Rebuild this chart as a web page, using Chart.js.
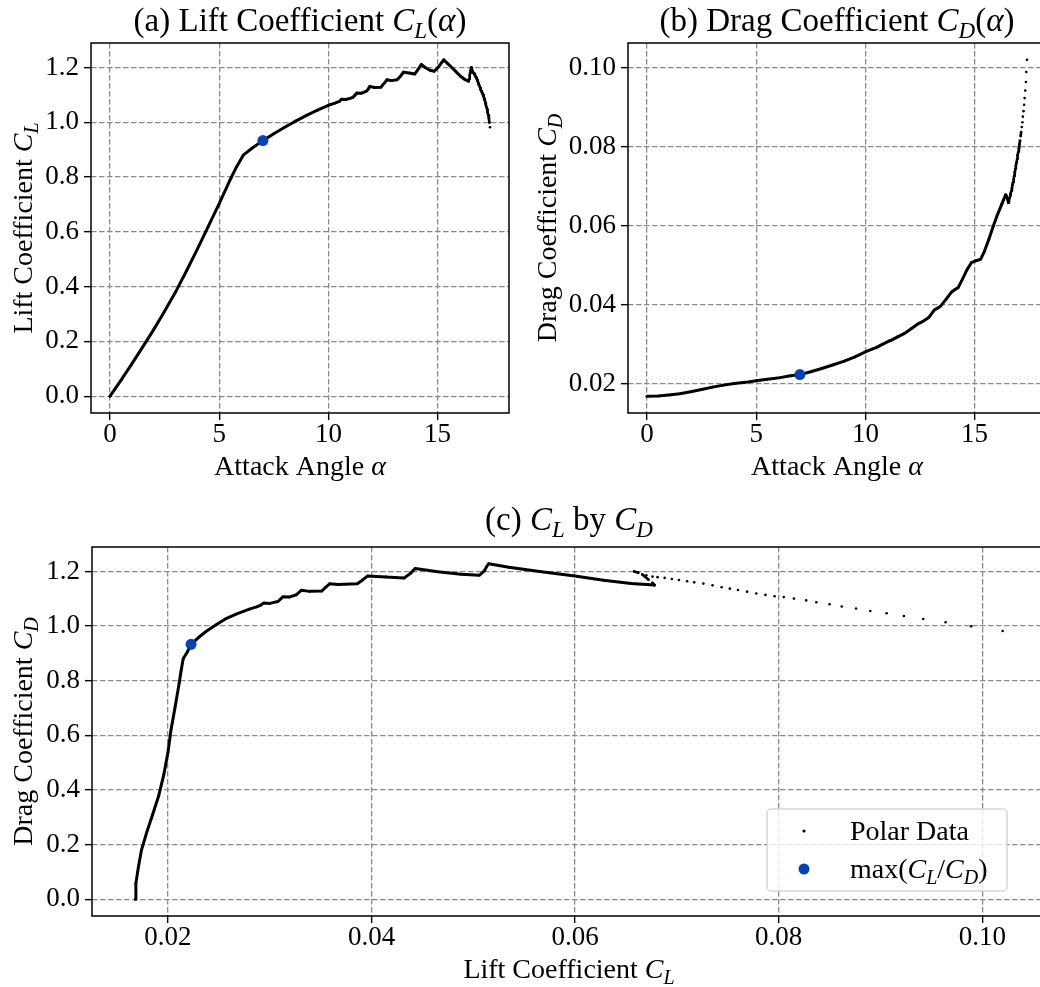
<!DOCTYPE html>
<html>
<head>
<meta charset="utf-8">
<script src="https://cdn.jsdelivr.net/npm/chart.js@4"></script>
<style>
  html, body { margin: 0; padding: 0; background: #fff; overflow: hidden; }
  body { width: 1040px; height: 987px; position: relative; }
  canvas { position: absolute; }
</style>
</head>
<body>
<canvas id="lift-chart" width="560" height="490" style="left:0;top:0"></canvas>
<canvas id="drag-chart" width="600" height="490" style="left:500px;top:0"></canvas>
<canvas id="polar-chart" width="1100" height="497" style="left:0;top:490px"></canvas>
<script>
// polar sweep: angle of attack (deg), lift and drag coefficients
const alpha = [
  0, 0.5, 1.0, 1.5, 2.0, 2.5, 3.0, 3.5, 4.0, 4.5, 5.0, 5.5, 5.8, 6.1, 6.5, 7.0, 7.5, 8.0, 8.5, 9.0,
  9.5, 10.0, 10.3, 10.5, 10.6, 10.8, 11.1, 11.2, 11.3, 11.5, 11.75, 11.82, 11.9, 12.1, 12.4, 12.55,
  12.68, 12.9, 13.15, 13.3, 13.44, 13.7, 13.95, 14.1, 14.25, 14.45, 14.65, 14.85, 15.05, 15.18,
  15.28, 15.45, 15.65, 15.85, 16.05, 16.25, 16.42,
  16.44, 16.47, 16.49, 16.51, 16.54, 16.57, 16.60, 16.63, 16.65, 16.68, 16.71, 16.73, 16.76, 16.79,
  16.81, 16.84, 16.87, 16.89, 16.92, 16.95, 16.97, 17.00, 17.03, 17.05, 17.08, 17.11, 17.13, 17.16,
  17.19, 17.21, 17.24, 17.27, 17.29, 17.32, 17.35, 17.37, 17.40
];
const liftCoef = [
  0.000, 0.058, 0.118, 0.180, 0.243, 0.310, 0.380, 0.457, 0.537, 0.620, 0.703, 0.790, 0.838, 0.880,
  0.905, 0.933, 0.958, 0.982, 1.004, 1.025, 1.044, 1.062, 1.070, 1.076, 1.084, 1.083, 1.090, 1.097,
  1.107, 1.106, 1.114, 1.121, 1.131, 1.127, 1.128, 1.142, 1.155, 1.152, 1.155, 1.168, 1.183, 1.180,
  1.176, 1.192, 1.211, 1.199, 1.190, 1.186, 1.203, 1.217, 1.228, 1.215, 1.200, 1.184, 1.168, 1.156,
  1.150,
  1.158, 1.170, 1.180, 1.189, 1.200, 1.1955, 1.186, 1.181, 1.179, 1.1765, 1.172, 1.1685, 1.164,
  1.160, 1.1555, 1.149, 1.142, 1.137, 1.132, 1.126, 1.119, 1.114, 1.109, 1.106, 1.1005, 1.094,
  1.087, 1.080, 1.0715, 1.064, 1.055, 1.047, 1.037, 1.026, 1.014, 0.999, 0.982
];
const dragCoef = [
  0.01680, 0.01685, 0.01710, 0.01740, 0.01790, 0.01850, 0.01910, 0.01960, 0.02000, 0.02030,
  0.02070, 0.02110, 0.02130, 0.02150, 0.02190, 0.02227, 0.02300, 0.02380, 0.02470, 0.02560,
  0.02670, 0.02800, 0.02870, 0.02910, 0.02940, 0.03000, 0.03080, 0.03100, 0.03130, 0.03190,
  0.03260, 0.03280, 0.03310, 0.03390, 0.03510, 0.03550, 0.03590, 0.03670, 0.03860, 0.03910,
  0.03960, 0.04140, 0.04320, 0.04380, 0.04430, 0.04650, 0.04880, 0.05060, 0.05110, 0.05130,
  0.05150, 0.05350, 0.05650, 0.05980, 0.06280, 0.06550, 0.06780,
  0.0676, 0.0672, 0.0669, 0.0666, 0.0658, 0.0662, 0.0670, 0.0676, 0.0681, 0.0688, 0.0695, 0.0702,
  0.0710, 0.0717, 0.0726, 0.0735, 0.0744, 0.0752, 0.0760, 0.0769, 0.0778, 0.0787, 0.0796, 0.0805,
  0.0815, 0.0827, 0.0837, 0.0850, 0.0862, 0.0876, 0.0890, 0.0906, 0.0923, 0.0942, 0.0964, 0.0989,
  0.1020
];
// past this index the sweep is read point by point (post-stall)
const postStallFrom = 57;

const alphaTicks = [0, 5, 10, 15];
const liftTicks = [0.0, 0.2, 0.4, 0.6, 0.8, 1.0, 1.2];
const dragTicks = [0.02, 0.04, 0.06, 0.08, 0.10];

const FONT = "'Liberation Serif', 'DejaVu Serif', serif";
const TICK_SIZE = 27;
const LABEL_SIZE = 28;
const TITLE_SIZE = 33;
const BEST_COLOR = '#0442b4';

// best glide point
let best = 0;
liftCoef.forEach((cl, i) => {
    if (cl / dragCoef[i] > liftCoef[best] / dragCoef[best]) best = i;
});

function padded(values) {
    const lo = Math.min(...values), hi = Math.max(...values);
    const m = (hi - lo) * 0.05;
    return [lo - m, hi + m];
}

// --- text helpers (roman / italic / italic subscript runs) ---

function runFont(style, size) {
    if (style === 'rm') return `${size}px ${FONT}`;
    if (style === 'it') return `italic ${size}px ${FONT}`;
    return `italic ${Math.round(size * 0.7)}px ${FONT}`;
}

function runsWidth(ctx, runs, size) {
    let w = 0;
    runs.forEach(([t, s]) => { ctx.font = runFont(s, size); w += ctx.measureText(t).width; });
    return w;
}

function drawRuns(ctx, runs, x, y, size, opts = {}) {
    ctx.save();
    ctx.translate(x, y);
    if (opts.rotate) ctx.rotate(-Math.PI / 2);
    const w = runsWidth(ctx, runs, size);
    let cx = opts.left ? 0 : -w / 2;
    ctx.fillStyle = '#000';
    ctx.textAlign = 'left';
    ctx.textBaseline = 'alphabetic';
    runs.forEach(([t, s]) => {
        ctx.font = runFont(s, size);
        ctx.fillText(t, cx, s === 'sub' ? size * 0.2 : 0);
        cx += ctx.measureText(t).width;
    });
    ctx.restore();
}

function drawLegend(ctx, area) {
    const w = 240, h = 82;
    const x = area.right - 39 - w, y = area.bottom - 25 - h;
    ctx.save();
    ctx.beginPath();
    ctx.roundRect(x, y, w, h, 4);
    ctx.fillStyle = 'rgba(255,255,255,0.8)';
    ctx.fill();
    ctx.strokeStyle = 'rgba(204,204,204,0.8)';
    ctx.lineWidth = 1.5;
    ctx.stroke();

    ctx.fillStyle = '#000';
    ctx.beginPath();
    ctx.arc(x + 37, y + 22, 1.6, 0, Math.PI * 2);
    ctx.fill();
    drawRuns(ctx, [['Polar Data', 'rm']], x + 83, y + 31, LABEL_SIZE, { left: true });

    ctx.fillStyle = BEST_COLOR;
    ctx.beginPath();
    ctx.arc(x + 37, y + 60, 5.5, 0, Math.PI * 2);
    ctx.fill();
    drawRuns(ctx, [['max(', 'rm'], ['C', 'it'], ['L', 'sub'], ['/', 'rm'], ['C', 'it'], ['D', 'sub'], [')', 'rm']],
        x + 83, y + 69, LABEL_SIZE, { left: true });
    ctx.restore();
}

// frame, titles, axis labels and legend drawn over the chart
const axesDecor = {
    id: 'axesDecor',
    afterDraw(chart, args, opts) {
        const { ctx, chartArea: a } = chart;
        ctx.save();
        ctx.strokeStyle = '#000';
        ctx.lineWidth = 1.5;
        ctx.strokeRect(a.left, a.top, a.right - a.left, a.bottom - a.top);
        ctx.restore();

        const cx = (a.left + a.right) / 2, cy = (a.top + a.bottom) / 2;
        drawRuns(ctx, opts.title, cx, a.top - opts.titleGap, TITLE_SIZE);
        drawRuns(ctx, opts.xLabel, cx, a.bottom + 62, LABEL_SIZE);
        drawRuns(ctx, opts.yLabel, a.left - opts.yLabelGap, cy, LABEL_SIZE, { rotate: true });
        if (opts.legend) drawLegend(ctx, a);
    }
};

function axis(range, ticks, digits, vertical) {
    return {
        type: 'linear',
        min: range[0],
        max: range[1],
        afterBuildTicks: scale => { scale.ticks = ticks.map(v => ({ value: v })); },
        afterFit: scale => { if (vertical) scale.width = 60; else scale.height = 40; },
        ticks: {
            callback: v => v.toFixed(digits),
            font: { family: FONT, size: TICK_SIZE },
            color: '#000',
            padding: vertical ? 5 : -1,
            maxRotation: 0,
            autoSkip: false
        },
        grid: { color: '#8a8a8a', lineWidth: 1.3, tickColor: '#000', tickLength: 7, tickWidth: 1.4 },
        border: { display: false, dash: [5.5, 2.5] }
    };
}

// consecutive points are joined while the sweep is dense, and
// afterwards only where the dots would touch anyway
function joined(ctx) {
    if (ctx.p1DataIndex < postStallFrom) return true;
    return Math.hypot(ctx.p1.x - ctx.p0.x, ctx.p1.y - ctx.p0.y) < 4.6;
}

function makePanel(canvasId, xs, ys, cfg) {
    const points = xs.map((x, i) => ({ x, y: ys[i] }));
    return new Chart(document.getElementById(canvasId), {
        type: 'scatter',
        data: {
            datasets: [
                {
                    label: 'max(CL/CD)',
                    data: [{ x: xs[best], y: ys[best] }],
                    pointRadius: 5.5,
                    pointBackgroundColor: BEST_COLOR,
                    pointBorderWidth: 0
                },
                {
                    label: 'Polar Data',
                    data: points,
                    showLine: true,
                    borderColor: '#000',
                    borderWidth: 3,
                    borderCapStyle: 'round',
                    borderJoinStyle: 'round',
                    pointRadius: 1.3,
                    pointBackgroundColor: '#000',
                    pointBorderWidth: 0,
                    segment: {
                        borderColor: ctx => joined(ctx) ? '#000' : 'rgba(0,0,0,0)',
                        borderWidth: ctx => ctx.p1DataIndex < postStallFrom ? 3 : 2.6
                    }
                }
            ]
        },
        options: {
            responsive: false,
            animation: false,
            devicePixelRatio: 1,
            events: [],
            layout: { padding: cfg.padding },
            scales: {
                x: axis(cfg.xRange, cfg.xTicks, cfg.xDigits, false),
                y: axis(cfg.yRange, cfg.yTicks, cfg.yDigits, true)
            },
            plugins: {
                legend: { display: false },
                tooltip: { enabled: false },
                axesDecor: cfg.decor
            }
        },
        plugins: [axesDecor]
    });
}

const alphaRange = padded(alpha);
const liftRange = padded(liftCoef);
const dragRange = padded(dragCoef);

makePanel('lift-chart', alpha, liftCoef, {
    padding: { left: 31, right: 51, top: 43, bottom: 37 },
    xRange: alphaRange, xTicks: alphaTicks, xDigits: 0,
    yRange: liftRange, yTicks: liftTicks, yDigits: 1,
    decor: {
        title: [['(a) Lift Coefficient ', 'rm'], ['C', 'it'], ['L', 'sub'], ['(', 'rm'], ['α', 'it'], [')', 'rm']],
        xLabel: [['Attack Angle ', 'rm'], ['α', 'it']],
        yLabel: [['Lift Coefficient ', 'rm'], ['C', 'it'], ['L', 'sub']],
        titleGap: 12,
        yLabelGap: 59
    }
});

makePanel('drag-chart', alpha, dragCoef, {
    padding: { left: 68, right: 54, top: 43, bottom: 37 },
    xRange: alphaRange, xTicks: alphaTicks, xDigits: 0,
    yRange: dragRange, yTicks: dragTicks, yDigits: 2,
    decor: {
        title: [['(b) Drag Coefficient ', 'rm'], ['C', 'it'], ['D', 'sub'], ['(', 'rm'], ['α', 'it'], [')', 'rm']],
        xLabel: [['Attack Angle ', 'rm'], ['α', 'it']],
        yLabel: [['Drag Coefficient ', 'rm'], ['C', 'it'], ['D', 'sub']],
        titleGap: 12,
        yLabelGap: 72
    }
});

makePanel('polar-chart', dragCoef, liftCoef, {
    padding: { left: 32, right: 54, top: 57, bottom: 31 },
    xRange: dragRange, xTicks: dragTicks, xDigits: 2,
    yRange: liftRange, yTicks: liftTicks, yDigits: 1,
    decor: {
        title: [['(c) ', 'rm'], ['C', 'it'], ['L', 'sub'], [' by ', 'rm'], ['C', 'it'], ['D', 'sub']],
        xLabel: [['Lift Coefficient ', 'rm'], ['C', 'it'], ['L', 'sub']],
        yLabel: [['Drag Coefficient ', 'rm'], ['C', 'it'], ['D', 'sub']],
        titleGap: 17,
        yLabelGap: 60,
        legend: true
    }
});
</script>
</body>
</html>
